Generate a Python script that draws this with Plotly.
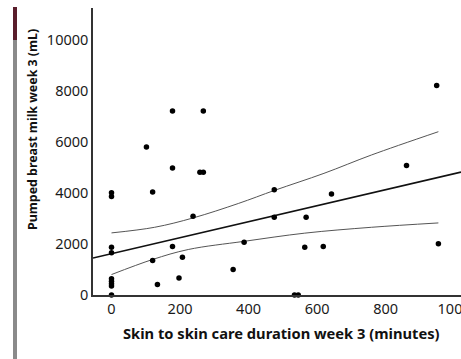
import plotly.graph_objects as go

# Scatter data (minutes of skin-to-skin care, pumped breast milk mL)
skin_minutes = [0, 0, 0, 0, 0, 0, 0, 0, 0,
                102, 120, 120, 134, 178, 178, 178, 197, 207, 238, 258, 268, 268,
                355, 387, 475, 475, 534, 545, 564, 568, 618, 642, 861, 949, 954]
pumped_ml = [4000, 3850, 1870, 1650, 640, 540, 440, 350, 0,
             5790, 4030, 1350, 410, 7200, 4970, 1900, 670, 1480, 3080, 4800, 4800, 7200,
             1000, 2060, 4120, 3040, 0, 0, 1870, 3040, 1900, 3950, 5070, 8200, 2010]

# Fitted regression line
fit_intercept = 1616
fit_slope = 3.13

# 95% confidence band of the mean
upper_minutes = [0, 126, 238, 370, 477, 620, 759, 954]
upper_ml = [2430, 2650, 3015, 3580, 4100, 4760, 5480, 6390]
lower_minutes = [0, 120, 224, 387, 564, 759, 954]
lower_ml = [800, 1390, 1780, 2100, 2420, 2650, 2820]

x_range = [-54, 1020]
y_range = [0, 11230]
y_ticks = [0, 2000, 4000, 6000, 8000, 10000]
y_tick_labels = ["0", "2000", "4000", "6000", "8000", "10000"]
x_ticks = [0, 200, 400, 600, 800, 1000]
x_tick_labels = ["0", "200", "400", "600", "800", "1000"]

fit_x = x_range
fit_y = [fit_intercept + fit_slope * v for v in fit_x]

fig = go.Figure()
fig.add_trace(go.Scatter(x=upper_minutes, y=upper_ml, mode="lines",
                         line=dict(color="#555555", width=1, shape="spline"),
                         hoverinfo="skip", showlegend=False))
fig.add_trace(go.Scatter(x=lower_minutes, y=lower_ml, mode="lines",
                         line=dict(color="#555555", width=1, shape="spline"),
                         hoverinfo="skip", showlegend=False))
fig.add_trace(go.Scatter(x=fit_x, y=fit_y, mode="lines",
                         line=dict(color="#111111", width=1.6),
                         hoverinfo="skip", showlegend=False))
fig.add_trace(go.Scatter(x=skin_minutes, y=pumped_ml, mode="markers",
                         marker=dict(color="#000000", size=5.5),
                         cliponaxis=False, showlegend=False))

font_family = "Noto Sans, DejaVu Sans, sans-serif"

fig.update_layout(
    width=461, height=359,
    margin=dict(l=93, r=0, t=8, b=64, autoexpand=False),
    paper_bgcolor="white", plot_bgcolor="white",
    font=dict(family=font_family, color="#111111", size=14),
    xaxis=dict(range=x_range, tickvals=x_ticks, ticktext=x_tick_labels,
               ticks="", showgrid=False, ticklabeloverflow="allow", automargin=False,
               zeroline=False, showline=True, linecolor="#333333", linewidth=1.5,
               tickfont=dict(size=14.5, color="#1a1a1a")),
    yaxis=dict(range=y_range, tickvals=y_ticks, ticktext=y_tick_labels,
               ticks="", showgrid=False, automargin=False,
               zeroline=False, showline=True, linecolor="#333333", linewidth=1.5,
               tickfont=dict(size=14.5, color="#1a1a1a")),
    annotations=[
        dict(text="<b>Skin to skin care duration week 3 (minutes)</b>",
             xref="paper", yref="paper", x=0.513, y=-0.131,
             xanchor="center", yanchor="middle", showarrow=False,
             font=dict(size=14.7, color="#111111")),
        dict(text="<b>Pumped breast milk week 3 (mL)</b>",
             xref="paper", yref="paper", x=-0.166, y=0.578, textangle=-90,
             xanchor="center", yanchor="middle", showarrow=False,
             font=dict(size=12.4, color="#111111")),
    ],
    shapes=[
        dict(type="rect", xref="paper", yref="paper",
             x0=-80 / 368, x1=-76 / 368, y0=-64 / 287, y1=288 / 287,
             fillcolor="#8a8a8a", line=dict(width=0), layer="below"),
        dict(type="rect", xref="paper", yref="paper",
             x0=-80 / 368, x1=-76 / 368, y0=255 / 287, y1=288 / 287,
             fillcolor="#5a1e2c", line=dict(width=0), layer="below"),
    ],
)

fig.write_html("out.html")
